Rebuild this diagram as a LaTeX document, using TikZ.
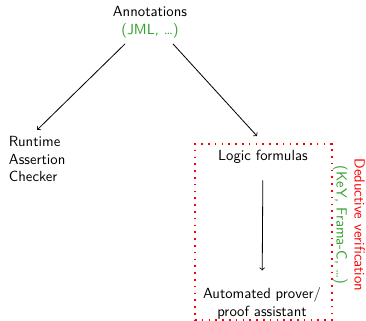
\documentclass[tikz,border=0pt]{standalone}
\usetikzlibrary{positioning, fit, calc}
\definecolor{dgreen}{HTML}{33A02C}
\definecolor{dred}{HTML}{FF0000}

\begin{document}
\begin{tikzpicture}[
  x=0.735pt, y=-0.735pt,
  font=\sffamily\fontsize{10.8}{13.2}\selectfont,
  txt/.style={align=center, inner sep=2pt},
  ar/.style={->, draw=black, line width=0.6pt},
  dbox/.style={draw=dred, line width=1.2pt, dash pattern=on 1.2pt off 3.8pt, inner sep=0pt}]

\useasboundingbox (0,0) rectangle (366,321);

\node[txt] (ann) at (150,22) {Annotations\\{\color{dgreen}(JML, \dots)}};
\node[txt, align=left, anchor=west] (rac) at (6,159) {Runtime\\Assertion\\Checker};
\node[txt] (logic) at (263,157) {Logic formulas};
\node[txt] (prover) at (262,303) {Automated prover/\\proof assistant};

\coordinate (bnw) at (195,144);
\coordinate (bse) at (332,320);
\node[dbox, fit=(bnw)(bse)] (ded) {};
\node[txt, rotate=-90] (dlab) at (349,225)
  {{\color{dred}Deductive verification}\\{\color{dgreen}(KeY, Frama-C, \dots)}};

\draw[ar] ($(ann.south)+(-25,3)$) -- ($(rac.north)+(0,-3)$);
\draw[ar, shorten >=7pt] ($(ann.south)+(23,3)$) -- (ded.north);
\draw[ar, shorten <=10pt, shorten >=10pt] (logic) -- (prover);
\end{tikzpicture}
\end{document}
